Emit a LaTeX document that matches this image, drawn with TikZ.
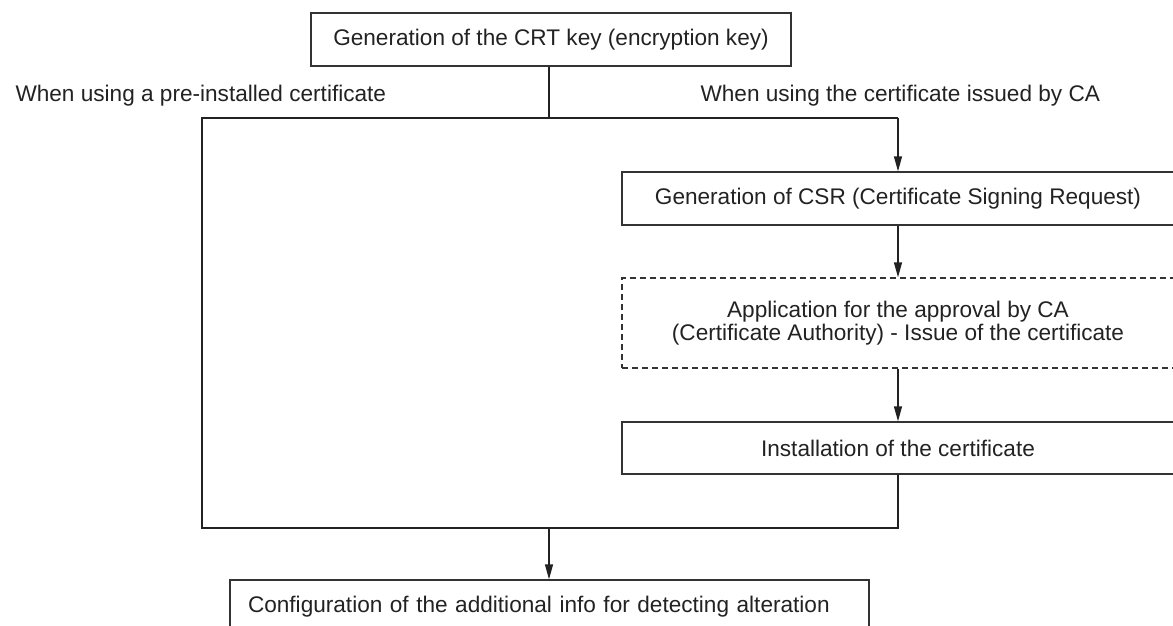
\documentclass[tikz,border=0pt]{standalone}
\usepackage{fontspec}
\setmainfont{Liberation Sans}
\usetikzlibrary{arrows.meta}
\definecolor{ink}{HTML}{222222}
\definecolor{edge}{HTML}{333333}
\begin{document}
\begin{tikzpicture}[x=1pt,y=-1pt,
  every node/.style={font=\fontsize{22.6}{23.5}\selectfont, text=ink},
  box/.style={draw=edge, line width=1.3pt, inner sep=0pt, align=center},
  dbox/.style={box, dash pattern=on 6pt off 4pt},
  link/.style={draw=ink, line width=1.3pt},
  arr/.style={link, -{Triangle[length=15pt,width=8pt]}}
]
\useasboundingbox (0,0) rectangle (1173,626);
\clip (0,0) rectangle (1173,626);

\node[box, minimum width=480pt, minimum height=53pt] (top) at (551,39.5) {Generation of the CRT key (encryption key)};

\node[anchor=base west] (lblL) at (12,101) {When using a pre-installed certificate};
\node[anchor=base west] (lblR) at (697,101) {When using the certificate issued by CA};

\node[box, minimum width=552pt, minimum height=53pt] (csr) at (898,198.5) {Generation of CSR (Certificate Signing Request)};
\node[dbox, minimum width=552pt, minimum height=90pt] (app) at (898,323) {Application for the approval by CA\\(Certificate Authority) - Issue of the certificate};
\node[box, minimum width=552pt, minimum height=52pt] (inst) at (898,448) {Installation of the certificate};
\node[box, minimum width=639pt, minimum height=53pt, text width=603pt, inner xsep=18pt, align=left] (conf) at (549.5,606.5) {Configuration of the additional info for detecting alteration};

\coordinate (jL) at (202,118);
\coordinate (jM) at (549,118);
\coordinate (jR) at (898,118);
\coordinate (bL) at (202,528);
\coordinate (bM) at (549,528);
\coordinate (bR) at (898,528);

\draw[link] (jM |- top.south) -- (jM);
\draw[link] (inst.south) -- (bR) -- (bL) -- (jL) -- (jR);
\draw[arr] (jR) -- (csr.north);
\draw[arr] (csr.south) -- (app.north);
\draw[arr] (app.south) -- (inst.north);
\draw[arr] (bM) -- (bM |- conf.north);
\end{tikzpicture}
\end{document}
